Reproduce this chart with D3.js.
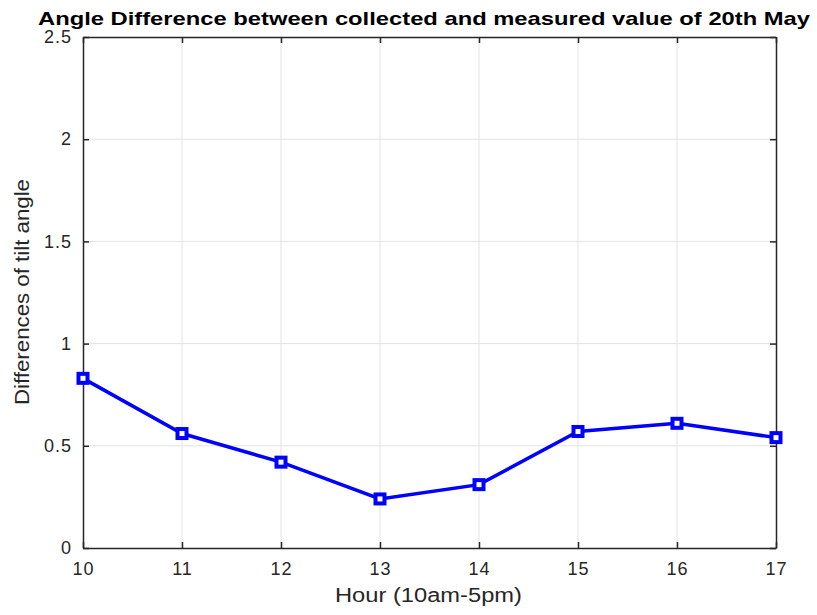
<!DOCTYPE html>
<html lang="en">
<head>
  <meta charset="UTF-8" />
  <title>Angle Difference</title>
  <style>
    body { margin: 0; background: #fff; }
    svg { font-family: "Liberation Sans", Arial, sans-serif; }
    .data-line { fill: none; stroke: #0000ff; stroke-width: 3.5px; }
    .grid line { stroke: #e3e3e3; stroke-width: 1px; }
  </style>
</head>
<body>
<script src="https://cdn.jsdelivr.net/npm/d3@7"></script>
<script>
  var hours = [10, 11, 12, 13, 14, 15, 16, 17];
  var diffs = [0.83, 0.56, 0.42, 0.24, 0.31, 0.57, 0.61, 0.54];
  var yTicks = [0, 0.5, 1, 1.5, 2, 2.5];
  var yTickLabels = ["0", "0.5", "1", "1.5", "2", "2.5"];

  var w = 817, h = 615;
  var margin = { top: 37, right: 41, bottom: 67, left: 83 };
  var iw = w - margin.left - margin.right;
  var ih = h - margin.top - margin.bottom;

  var data = hours.map(function(d, i) { return { hour: d, diff: diffs[i] }; });

  var svg = d3.select("body").append("svg")
    .attr("width", w)
    .attr("height", h);

  var g = svg.append("g")
    .attr("transform", "translate(" + margin.left + "," + margin.top + ")");

  var xScale = d3.scaleLinear().domain([10, 17]).range([0, iw]);
  var yScale = d3.scaleLinear().domain([0, 2.5]).range([ih, 0]);

  // grid
  g.append("g").attr("class", "grid")
    .selectAll("line.v").data(hours.slice(1, -1)).enter().append("line")
    .attr("x1", function(d) { return xScale(d); })
    .attr("x2", function(d) { return xScale(d); })
    .attr("y1", 0).attr("y2", ih);
  g.append("g").attr("class", "grid")
    .selectAll("line.h").data(yTicks.slice(1, -1)).enter().append("line")
    .attr("y1", function(d) { return yScale(d); })
    .attr("y2", function(d) { return yScale(d); })
    .attr("x1", 0).attr("x2", iw);

  // axes (ticks inward)
  var xAxis = d3.axisBottom(xScale).tickValues(hours).tickFormat(d3.format("d"))
    .tickSizeInner(-6).tickSizeOuter(0).tickPadding(14);
  var yAxis = d3.axisLeft(yScale).tickValues(yTicks)
    .tickFormat(function(d, i) { return yTickLabels[i]; })
    .tickSizeInner(-6).tickSizeOuter(0).tickPadding(11);
  var xTop = d3.axisTop(xScale).tickValues(hours).tickSizeInner(-6).tickSizeOuter(0).tickFormat("");
  var yRight = d3.axisRight(yScale).tickValues(yTicks).tickSizeInner(-6).tickSizeOuter(0).tickFormat("");

  [
    g.append("g").attr("transform", "translate(0," + ih + ")").call(xAxis),
    g.append("g").call(yAxis),
    g.append("g").call(xTop),
    g.append("g").attr("transform", "translate(" + iw + ",0)").call(yRight)
  ].forEach(function(ax) {
    ax.select(".domain").attr("stroke", "#262626").attr("stroke-width", 1.5);
    ax.selectAll(".tick line").attr("stroke", "#262626").attr("stroke-width", 1.5);
    ax.selectAll(".tick text")
      .style("font-size", "18px")
      .style("letter-spacing", "1px")
      .style("font-family", "'Liberation Sans', Arial, sans-serif")
      .attr("fill", "#262626");
  });

  var line = d3.line()
    .x(function(d) { return xScale(d.hour); })
    .y(function(d) { return yScale(d.diff); });

  g.append("path")
    .datum(data)
    .attr("class", "data-line")
    .attr("d", line);

  g.selectAll("rect.marker").data(data).enter().append("rect")
    .attr("class", "marker")
    .attr("x", function(d) { return xScale(d.hour) - 4.5; })
    .attr("y", function(d) { return yScale(d.diff) - 4.5; })
    .attr("width", 9).attr("height", 9)
    .attr("fill", "#fff")
    .attr("stroke", "#0000ff")
    .attr("stroke-width", 4);

  // labels
  svg.append("text")
    .attr("x", 38).attr("y", 25)
    .attr("font-weight", "bold")
    .attr("font-size", 19)
    .attr("textLength", 772)
    .attr("lengthAdjust", "spacingAndGlyphs")
    .attr("fill", "#000")
    .text("Angle Difference between collected and measured value of 20th May");

  svg.append("text")
    .attr("x", 335).attr("y", 602)
    .attr("font-size", 19.5)
    .attr("textLength", 187)
    .attr("lengthAdjust", "spacingAndGlyphs")
    .attr("fill", "#262626")
    .text("Hour (10am-5pm)");

  svg.append("text")
    .attr("transform", "translate(29,405) rotate(-90)")
    .attr("font-size", 19.5)
    .attr("textLength", 226)
    .attr("lengthAdjust", "spacingAndGlyphs")
    .attr("fill", "#262626")
    .text("Differences of tilt angle");
</script>
</body>
</html>
